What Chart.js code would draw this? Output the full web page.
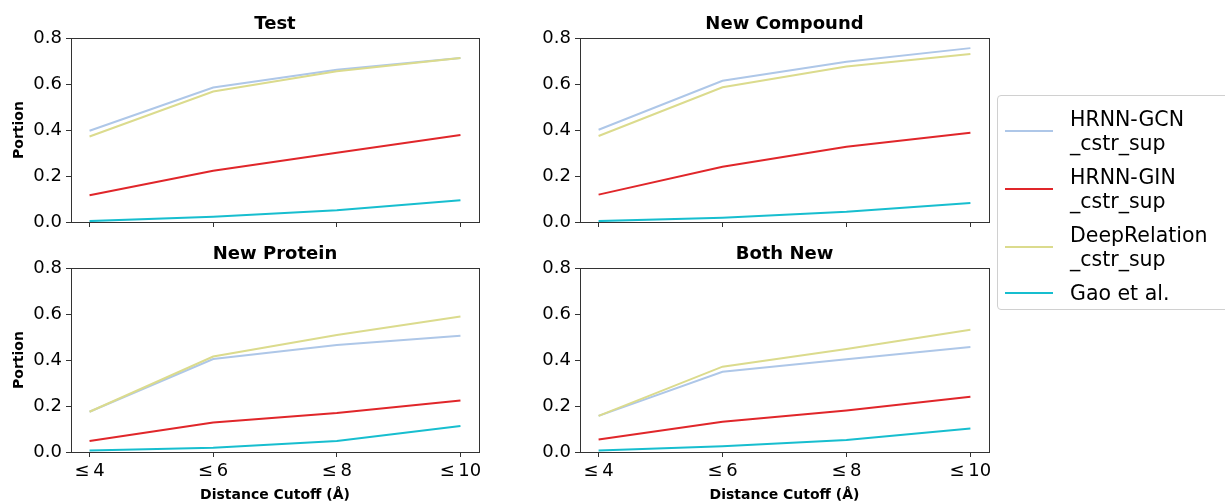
<!DOCTYPE html>

<html>
    <head>
        <meta charset="utf-8">
        <title>Distance cutoff</title>
        <script src="https://cdn.jsdelivr.net/npm/chart.js@4.4.0/dist/chart.umd.min.js"></script>
        <style>
            body { margin: 0; background: #fff; font-family: 'DejaVu Sans', sans-serif; }
            #wrap { position: relative; width: 1225px; height: 504px; overflow: hidden; }
            canvas { position: absolute; }
            #legend { position: absolute; left: 997px; top: 95px; width: 240px; height: 215px;
                      border: 1px solid #d0d0d0; border-radius: 4px; box-sizing: border-box; padding-top: 11px; }
            .item { display: flex; align-items: center; margin-bottom: 10px; }
            .swatch { width: 48px; height: 2px; margin-left: 7px; margin-right: 17px; }
            .txt { font-size: 20.5px; line-height: 24px; color: #000; }
        </style>
    </head>
    <body>
        <div id="wrap">
            <canvas id="c0" width="500" height="240" style="left:0px;top:0px"></canvas>
            <canvas id="c1" width="500" height="240" style="left:510px;top:0px"></canvas>
            <canvas id="c2" width="500" height="274" style="left:0px;top:230px"></canvas>
            <canvas id="c3" width="500" height="274" style="left:510px;top:230px"></canvas>
            <div id="legend"></div>
        </div>

        <script>
            const cutoffs = ['≤\u20094', '≤\u20096', '≤\u20098', '≤\u200910'];
            const yTicks = [0, 0.2, 0.4, 0.6, 0.8];
            const panelTitles = ['Test', 'New Compound', 'New Protein', 'Both New'];
            const seriesNames = [['HRNN-GCN', '_cstr_sup'], ['HRNN-GIN', '_cstr_sup'], ['DeepRelation', '_cstr_sup'], ['Gao et al.']];
            const seriesColors = ['#aec7e8', '#e0262a', '#dbdb8d', '#17becf'];

            // Test
            const gcnTest = [0.397, 0.585, 0.662, 0.713];
            const ginTest = [0.116, 0.223, 0.301, 0.378];
            const drTest = [0.372, 0.567, 0.655, 0.713];
            const gaoTest = [0.004, 0.023, 0.051, 0.095];
            // New Compound
            const gcnComp = [0.401, 0.614, 0.697, 0.756];
            const ginComp = [0.119, 0.240, 0.327, 0.388];
            const drComp = [0.374, 0.586, 0.676, 0.730];
            const gaoComp = [0.004, 0.019, 0.045, 0.083];
            // New Protein
            const gcnProt = [0.175, 0.404, 0.465, 0.505];
            const ginProt = [0.048, 0.128, 0.170, 0.224];
            const drProt = [0.175, 0.415, 0.509, 0.589];
            const gaoProt = [0.007, 0.019, 0.048, 0.113];
            // Both New
            const gcnBoth = [0.157, 0.349, 0.403, 0.457];
            const ginBoth = [0.054, 0.132, 0.180, 0.240];
            const drBoth = [0.157, 0.371, 0.448, 0.532];
            const gaoBoth = [0.006, 0.025, 0.052, 0.102];

            const panels = [
                [gcnTest, ginTest, drTest, gaoTest],
                [gcnComp, ginComp, drComp, gaoComp],
                [gcnProt, ginProt, drProt, gaoProt],
                [gcnBoth, ginBoth, drBoth, gaoBoth]
            ];

            Chart.defaults.font.family = 'DejaVu Sans';
            Chart.defaults.color = '#000';

            // draws the box round the plot area like matplotlib spines
            const frame = {
                id: 'frame',
                afterDraw(chart) {
                    const a = chart.chartArea;
                    const ctx = chart.ctx;
                    ctx.save();
                    ctx.strokeStyle = '#333';
                    ctx.lineWidth = 1;
                    ctx.strokeRect(Math.round(a.left) + 0.5, Math.round(a.top) + 0.5,
                        Math.round(a.right - a.left), Math.round(a.bottom - a.top));
                    ctx.restore();
                }
            };

            panels.forEach((vals, i) => {
                const isLeft = i % 2 == 0;
                const isBottom = i >= 2;
                const ctx = document.getElementById('c' + i).getContext('2d');
                new Chart(ctx, {
                    type: 'line',
                    data: {
                        datasets: vals.map((s, k) => ({
                            label: seriesNames[k].join(''),
                            data: s.map((v, j) => ({ x: j, y: v })),
                            borderColor: seriesColors[k],
                            borderWidth: 2,
                            pointRadius: 0,
                            tension: 0,
                            order: 4 - k
                        }))
                    },
                    options: {
                        responsive: false,
                        animation: false,
                        layout: { padding: { left: 0, right: 21, top: 0, bottom: 0 } },
                        plugins: {
                            legend: { display: false },
                            tooltip: { enabled: false },
                            title: {
                                display: true,
                                text: panelTitles[i],
                                fullSize: false,
                                font: { size: 18, weight: 'bold' },
                                color: '#000',
                                padding: { top: 14, bottom: 2.4 }
                            }
                        },
                        scales: {
                            x: {
                                type: 'linear',
                                min: -0.15,
                                max: 3.15,
                                afterBuildTicks: s => { s.ticks = cutoffs.map((c, j) => ({ value: j })); },
                                afterFit: s => { s.height = isBottom ? 52 : 18; },
                                ticks: {
                                    font: { size: 18 },
                                    padding: 4,
                                    maxRotation: 0,
                                    callback: v => isBottom ? cutoffs[v] : ''
                                },
                                grid: { drawOnChartArea: false, drawTicks: true, tickLength: 5, color: '#333' },
                                border: { display: false },
                                title: {
                                    display: isBottom,
                                    text: 'Distance Cutoff (Å)',
                                    font: { size: 14, weight: 'bold' },
                                    padding: { top: 0, bottom: 0 }
                                }
                            },
                            y: {
                                min: 0,
                                max: 0.8,
                                afterBuildTicks: s => { s.ticks = yTicks.map(v => ({ value: v })); },
                                afterFit: s => { s.width = isLeft ? 71 : 70; },
                                ticks: {
                                    font: { size: 18 },
                                    padding: 4,
                                    callback: v => v.toFixed(1)
                                },
                                grid: { drawOnChartArea: false, drawTicks: true, tickLength: 5, color: '#333' },
                                border: { display: false },
                                title: {
                                    display: isLeft,
                                    text: 'Portion',
                                    font: { size: 14, weight: 'bold' },
                                    padding: { top: 11, bottom: 0 }
                                }
                            }
                        }
                    },
                    plugins: [frame]
                });
            });

            const legend = document.getElementById('legend');
            seriesNames.forEach((lines, k) => {
                const row = document.createElement('div');
                row.className = 'item';
                const sw = document.createElement('div');
                sw.className = 'swatch';
                sw.style.background = seriesColors[k];
                const t = document.createElement('div');
                t.className = 'txt';
                t.innerHTML = lines.join('<br>');
                row.appendChild(sw);
                row.appendChild(t);
                legend.appendChild(row);
            });
        </script>
    </body>
</html>
